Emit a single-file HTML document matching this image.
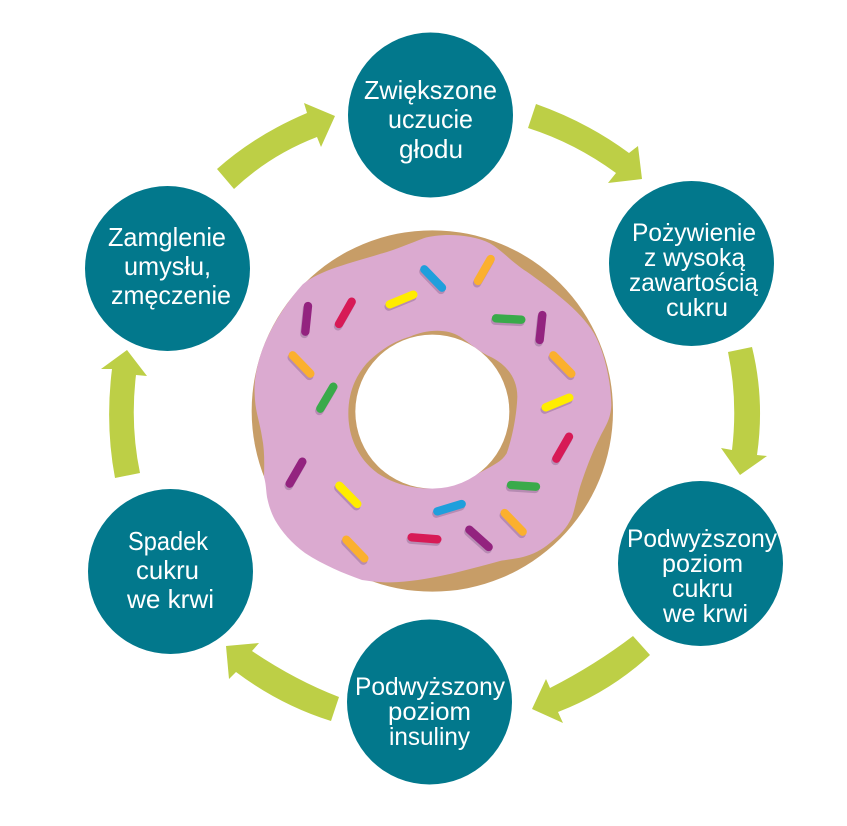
<!DOCTYPE html>
<html lang="pl">
<head>
<meta charset="utf-8">
<title>Diagram</title>
<style>
html,body{margin:0;padding:0;background:#fff;width:847px;height:826px;overflow:hidden}
svg{display:block}
text{font-family:"Liberation Sans",sans-serif;fill:#fff;font-size:26px}
.s{font-size:25px}
</style>
</head>
<body>
<svg width="847" height="826" viewBox="0 0 847 826" xmlns="http://www.w3.org/2000/svg">
<g transform="translate(240 220) scale(0.33333)">
  <circle cx="577" cy="573" r="542" fill="#c79d67"/>
  <path fill="#dbaad0" fill-rule="evenodd" d="M188 193 C240 150 330 130 420 102 C470 88 510 70 550 55 C600 40 690 40 750 70 C785 90 810 122 860 155 C930 205 1020 270 1062 340 C1090 390 1112 470 1114 555 C1112 600 1095 620 1080 651 C1055 700 1035 755 1020 801 C1010 835 1005 865 996 891 C980 925 960 945 930 969 C905 990 880 1003 849 1011 C825 1017 800 1019 780 1023 C680 1050 560 1085 450 1087 C425 1087 400 1085 366 1080 C310 1060 250 1035 195 999 C155 970 125 935 105 900 C92 875 86 855 81 831 C78 810 78 790 72 771 C73 730 74 690 66 651 C60 610 48 580 45 540 C42 500 44 480 50 450 C65 370 115 275 188 193 Z M510 350 C560 328 620 325 660 350 C690 370 720 398 755 412 C800 435 832 475 832 530 C830 590 815 660 800 700 C785 725 760 735 725 755 C680 780 620 805 550 805 C480 800 420 775 380 730 C345 690 325 640 325 580 C325 520 345 470 380 430 C420 390 460 365 510 350 Z"/>
  <circle cx="577" cy="575" r="231" fill="#fff"/>
  <g fill="none" stroke="#b78bb3" stroke-width="25" stroke-linecap="round" transform="translate(-3 7)">
    <path d="M204 258L196 335M335 245L297 312M449 253L520 224M553 148L606 203M752 117L714 183M768 295L844 299M907 285L899 360M158 406L211 461M280 500L241 566M940 406L994 461M917 562L988 533M987 650L949 716M187 725L149 791M298 797L352 852M813 795L888 800M592 874L665 852M794 879L848 935M688 929L746 981M515 952L592 958M319 959L373 1015"/>
  </g>
  <g fill="none" stroke-width="25" stroke-linecap="round">
    <path stroke="#93237f" d="M204 258L196 335M907 285L899 360M187 725L149 791M688 929L746 981"/>
    <path stroke="#d71a56" d="M335 245L297 312M987 650L949 716M515 952L592 958"/>
    <path stroke="#ffec00" d="M449 253L520 224M917 562L988 533M298 797L352 852"/>
    <path stroke="#1f9fdc" d="M553 148L606 203M592 874L665 852"/>
    <path stroke="#fbb02e" d="M752 117L714 183M158 406L211 461M940 406L994 461M794 879L848 935M319 959L373 1015"/>
    <path stroke="#39aa4a" d="M768 295L844 299M280 500L241 566M813 795L888 800"/>
  </g>
</g>
<g fill="#bdcf46">
  <path d="M536 104 Q587 122 629 153 L638 146 L642 179 L608 183 L616 173 Q575 143 528 128 Z"/>
  <path d="M728 352 Q738 400 732 450 L721 448 L740 475 L767 456 L757 455 Q765 400 752 347 Z"/>
  <path d="M633 636 Q595 665 550 688 L546 679 L532 709 L563 723 L558 712 Q610 692 650 655 Z"/>
  <path d="M339 697 Q295 680 252 651 L259 643 L226 646 L229 679 L236 672 Q280 705 331 721 Z"/>
  <path d="M115 478 Q105 425 112 369 L101 369 L127 350 L147 376 L136 375 Q130 425 140 473 Z"/>
  <path d="M217 169 Q255 135 307 113 L304 103 L335 116 L321 147 L317 137 Q270 155 234 189 Z"/>
</g>
<g fill="#02788c">
  <circle cx="430.5" cy="115" r="82.5"/>
  <circle cx="691.5" cy="263.5" r="82.5"/>
  <circle cx="700.5" cy="563.5" r="82.5"/>
  <circle cx="429.5" cy="702" r="82.5"/>
  <circle cx="170.5" cy="571.5" r="82.5"/>
  <circle cx="167.5" cy="268.5" r="82.5"/>
</g>
<text x="364" y="99" textLength="133" lengthAdjust="spacingAndGlyphs">Zwiększone</text>
<text x="388" y="128" textLength="85" lengthAdjust="spacingAndGlyphs">uczucie</text>
<text x="399" y="158" textLength="64" lengthAdjust="spacingAndGlyphs">głodu</text>

<text class="s" x="632" y="241" textLength="124" lengthAdjust="spacingAndGlyphs">Pożywienie</text>
<text class="s" x="644" y="266" textLength="101" lengthAdjust="spacingAndGlyphs">z wysoką</text>
<text class="s" x="629" y="291" textLength="129" lengthAdjust="spacingAndGlyphs">zawartością</text>
<text class="s" x="666" y="316" textLength="62" lengthAdjust="spacingAndGlyphs">cukru</text>

<text class="s" x="627" y="547" textLength="150" lengthAdjust="spacingAndGlyphs">Podwyższony</text>
<text class="s" x="662" y="572" textLength="81" lengthAdjust="spacingAndGlyphs">poziom</text>
<text class="s" x="672" y="597" textLength="61" lengthAdjust="spacingAndGlyphs">cukru</text>
<text class="s" x="663" y="622" textLength="85" lengthAdjust="spacingAndGlyphs">we krwi</text>

<text class="s" x="355" y="695" textLength="150" lengthAdjust="spacingAndGlyphs">Podwyższony</text>
<text class="s" x="388" y="720" textLength="83" lengthAdjust="spacingAndGlyphs">poziom</text>
<text class="s" x="389" y="745" textLength="81" lengthAdjust="spacingAndGlyphs">insuliny</text>

<text x="128" y="550" textLength="80" lengthAdjust="spacingAndGlyphs">Spadek</text>
<text x="136" y="579" textLength="63" lengthAdjust="spacingAndGlyphs">cukru</text>
<text x="127" y="608" textLength="87" lengthAdjust="spacingAndGlyphs">we krwi</text>

<text x="108" y="246" textLength="118" lengthAdjust="spacingAndGlyphs">Zamglenie</text>
<text x="124" y="275" textLength="87" lengthAdjust="spacingAndGlyphs">umysłu,</text>
<text x="111" y="304" textLength="120" lengthAdjust="spacingAndGlyphs">zmęczenie</text>
</svg>
</body>
</html>
